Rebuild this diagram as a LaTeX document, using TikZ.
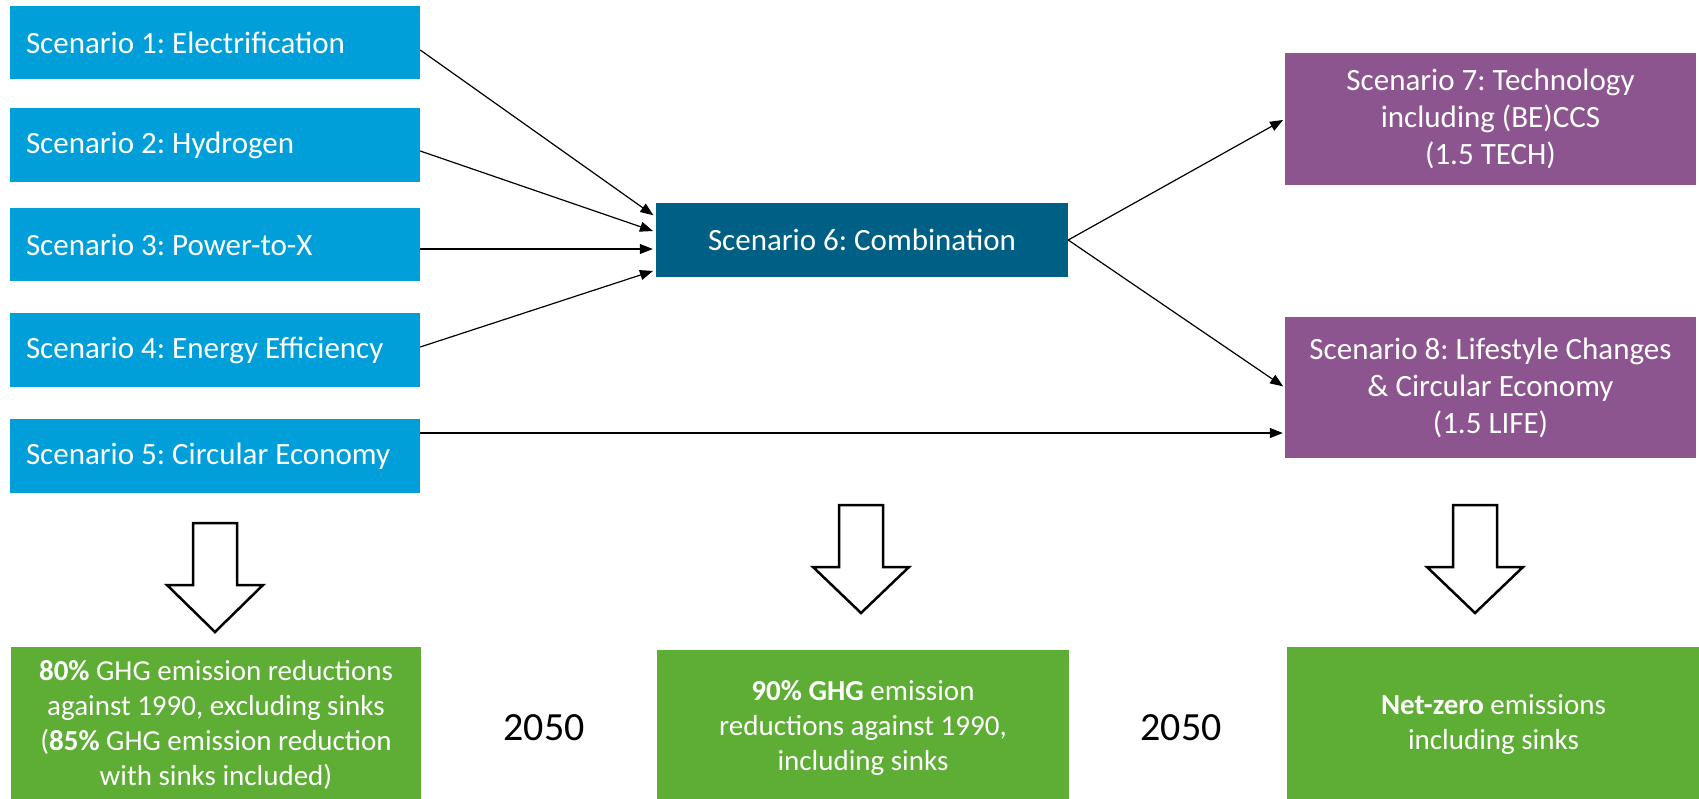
\documentclass[tikz,border=0pt]{standalone}
\usepackage{fontspec}
\setmainfont{Carlito}
\usetikzlibrary{arrows.meta}
\definecolor{sblue}{HTML}{009FDA}
\definecolor{steal}{HTML}{005F84}
\definecolor{spurple}{HTML}{8C558F}
\definecolor{sgreen}{HTML}{5EAD35}
\frenchspacing
\begin{document}
\frenchspacing
\begin{tikzpicture}[x=1pt,y=-1pt,
  box/.style={inner sep=0pt, text=white, font=\fontsize{31}{37}\selectfont},
  leftbox/.style={box, fill=sblue, minimum height=73.5pt, minimum width=410pt},
  midbox/.style={box, fill=steal, minimum width=412pt, minimum height=74pt, align=center},
  rightbox/.style={box, fill=spurple, minimum width=411pt, align=center},
  resbox/.style={inner sep=0pt, text=white, fill=sgreen, font=\fontsize{29}{35}\selectfont, align=center},
  yeartext/.style={inner sep=0pt, text=black, font=\fontsize{40}{44}\selectfont},
  conn/.style={line width=1.2pt, -{Triangle[length=13pt,width=10pt]}},
  hollow/.style={draw=black, line width=2.5pt, fill=white, line join=miter}
]
\useasboundingbox (0,0) rectangle (1699,798);

\node[leftbox] (s1) at (215,42.5) {\makebox[378pt][l]{Scenario 1: Electrification}};
\node[leftbox] (s2) at (215,145) {\makebox[378pt][l]{Scenario 2: Hydrogen}};
\node[leftbox] (s3) at (215,244.5) {\makebox[378pt][l]{Scenario 3: Power-to-X}};
\node[leftbox] (s4) at (215,350) {\makebox[378pt][l]{Scenario 4: Energy Efficiency}};
\node[leftbox] (s5) at (215,456) {\makebox[378pt][l]{Scenario 5: Circular Economy}};

\node[midbox] (s6) at (862,240) {Scenario 6: Combination};

\node[rightbox, minimum height=132pt] (s7) at (1490.5,119) {Scenario 7: Technology\\including (BE)CCS\\(1.5 TECH)};
\node[rightbox, minimum height=141pt] (s8) at (1490.5,387.5) {Scenario 8: Lifestyle Changes\\\& Circular Economy\\(1.5 LIFE)};

\node[resbox, minimum width=410pt, minimum height=155pt] (g1) at (216,724.5) {\textbf{80\%} GHG emission reductions\\against 1990, excluding sinks\\(\textbf{85\%} GHG emission reduction\\with sinks included)};
\node[resbox, minimum width=412pt, minimum height=156pt] (g2) at (863,728) {\textbf{90\% GHG} emission\\reductions against 1990,\\including sinks};
\node[resbox, minimum width=413pt, minimum height=156pt] (g3) at (1493.5,725) {\textbf{Net-zero} emissions\\including sinks};

\node[yeartext] (y1) at (544,728) {2050};
\node[yeartext] (y2) at (1181,728) {2050};

\draw[conn, shorten >=3pt] ([yshift=-7.5pt]s1.east) -- ([yshift=23pt]s6.west);
\draw[conn, shorten >=3pt] ([yshift=-6pt]s2.east) -- ([yshift=8pt]s6.west);
\draw[conn, shorten >=3pt] ([yshift=-4.5pt]s3.east) -- ([yshift=-9pt]s6.west);
\draw[conn, shorten >=3pt] ([yshift=3pt]s4.east) -- ([yshift=-30pt]s6.west);
\draw[conn, shorten >=2pt] ([yshift=23pt]s5.east) -- ([yshift=23pt]s5.east -| s8.west);
\draw[conn, shorten >=2pt] (s6.east) -- (s7.west);
\draw[conn, shorten >=2pt] (s6.east) -- (s8.west);

\draw[hollow] (193,523) -- (237,523) -- (237,585) -- (263,585) -- (215,632) -- (167,585) -- (193,585) -- cycle;
\draw[hollow] (839,505) -- (883,505) -- (883,567) -- (909,567) -- (861,613) -- (813,567) -- (839,567) -- cycle;
\draw[hollow] (1453,505) -- (1497,505) -- (1497,567) -- (1523,567) -- (1475,613) -- (1427,567) -- (1453,567) -- cycle;
\end{tikzpicture}
\end{document}
